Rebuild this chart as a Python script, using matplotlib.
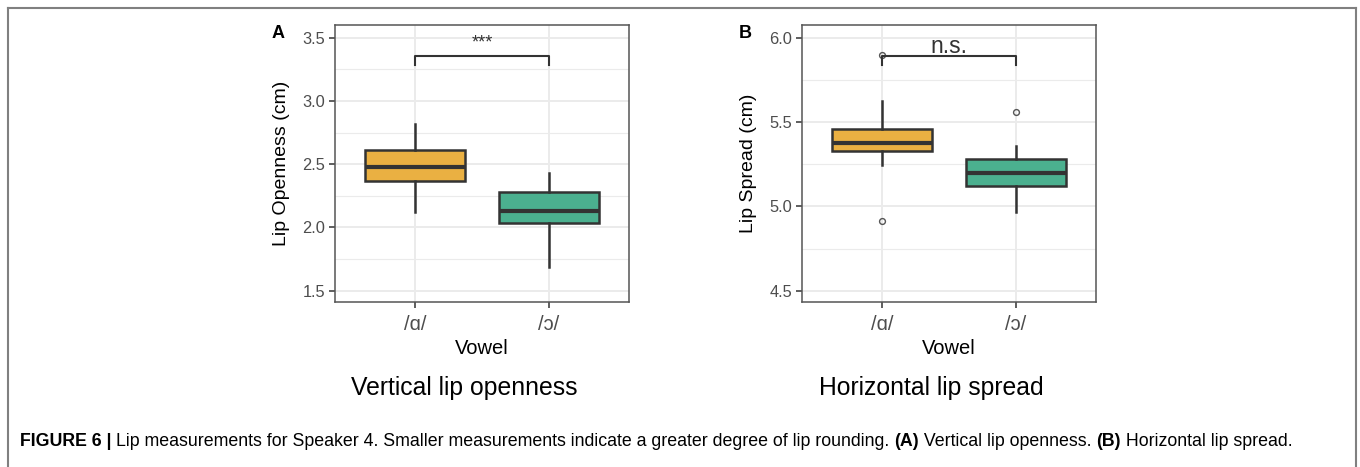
import matplotlib
matplotlib.use("Agg")
import matplotlib.pyplot as plt
from matplotlib.ticker import MultipleLocator

plt.rcParams['font.family'] = ['Liberation Sans', 'DejaVu Sans']

# ---- data ----
vowels = ["/ɑ/", "/ɔ/"]
colors = ["#EAB042", "#4BB08F"]

# Panel A: Lip openness (cm)
open_q1 = [2.363, 2.032]
open_med = [2.477, 2.131]
open_q3 = [2.608, 2.276]
open_lo = [2.118, 1.689]
open_hi = [2.818, 2.428]
open_fliers = [[], []]
open_sig = "***"
open_bracket = 3.353

# Panel B: Lip spread (cm)
spread_q1 = [5.328, 5.118]
spread_med = [5.376, 5.196]
spread_q3 = [5.457, 5.279]
spread_lo = [5.243, 4.964]
spread_hi = [5.627, 5.360]
spread_fliers = [[5.895, 4.914], [5.557]]
spread_sig = "n.s."
spread_bracket = 5.89

W, H = 1360, 467
fig = plt.figure(figsize=(W / 100, H / 100), dpi=100)

# outer frame (open at bottom)
frame_col = "#808080"
fig.add_artist(plt.Line2D([8 / W, 8 / W], [0, 1 - 8 / H], transform=fig.transFigure, color=frame_col, lw=1.5))
fig.add_artist(plt.Line2D([8 / W, 1356 / W], [1 - 8 / H, 1 - 8 / H], transform=fig.transFigure, color=frame_col, lw=1.5))
fig.add_artist(plt.Line2D([1356 / W, 1356 / W], [0, 1 - 8 / H], transform=fig.transFigure, color=frame_col, lw=1.5))

edge = "#333333"
tick_col = "#4D4D4D"


def panel(left_px, q1, med, q3, lo, hi, fliers, ylim, major, ylabel, sig, bracket, tip, sig_y, sig_size, letter):
    ax = fig.add_axes([left_px / W, 1 - 302 / H, 294 / W, 277 / H])
    stats = []
    for i in range(len(vowels)):
        stats.append(dict(q1=q1[i], med=med[i], q3=q3[i], whislo=lo[i], whishi=hi[i], fliers=fliers[i]))
    pos = list(range(1, len(vowels) + 1))
    ax.set_axisbelow(True)
    bp = ax.bxp(stats, positions=pos, widths=0.75, patch_artist=True, showcaps=False,
                boxprops=dict(edgecolor=edge, linewidth=1.8),
                medianprops=dict(color=edge, linewidth=3.0, solid_capstyle='butt'),
                whiskerprops=dict(color=edge, linewidth=1.8),
                flierprops=dict(marker='o', markersize=4.2, markerfacecolor='none',
                                markeredgecolor='#555555', markeredgewidth=1.0),
                zorder=3)
    for patch, c in zip(bp['boxes'], colors):
        patch.set_facecolor(c)
    ax.set_xlim(0.4, 2.6)
    ax.set_ylim(*ylim)
    ax.yaxis.set_major_locator(MultipleLocator(major))
    ax.yaxis.set_minor_locator(MultipleLocator(major / 2))
    ax.yaxis.set_major_formatter(matplotlib.ticker.FormatStrFormatter('%.1f'))
    ax.set_xticks(pos)
    ax.set_xticklabels(vowels)
    ax.grid(True, which='major', color='#EBEBEB', lw=1.4)
    ax.grid(True, which='minor', axis='y', color='#EBEBEB', lw=0.8)
    ax.tick_params(axis='both', which='major', length=4, width=1.1, color='#333333',
                   labelsize=11.8, labelcolor=tick_col, pad=3)
    ax.tick_params(axis='y', which='minor', length=0)
    ax.tick_params(axis='x', labelsize=14.5, pad=5)
    for s in ax.spines.values():
        s.set_color('#555555')
        s.set_linewidth(1.1)
    ax.set_xlabel("Vowel", fontsize=14.5, color='black', labelpad=4)
    ax.set_ylabel(ylabel, fontsize=14, color='black', labelpad=9)
    # significance bracket
    ax.plot([1, 1, 2, 2], [tip, bracket, bracket, tip], color=edge, lw=1.5, zorder=4)
    ax.text(1.5, sig_y, sig, ha='center', va='center', fontsize=sig_size, color='#333333')
    fig.text((left_px - 57) / W, 1 - 33 / H, letter, fontsize=13, fontweight='bold', ha='center', va='center')
    return ax


panel(335, open_q1, open_med, open_q3, open_lo, open_hi, open_fliers,
      (1.41, 3.6), 0.5, "Lip Openness (cm)", open_sig, open_bracket, 3.284, 3.46, 13, "A")
panel(802, spread_q1, spread_med, spread_q3, spread_lo, spread_hi, spread_fliers,
      (4.433, 6.075), 0.5, "Lip Spread (cm)", spread_sig, spread_bracket, 5.836, 5.95, 16.5, "B")

fig.text(464 / W, 1 - 388 / H, "Vertical lip openness", fontsize=17.8, ha='center', va='center')
fig.text(931 / W, 1 - 388 / H, "Horizontal lip spread", fontsize=17.8, ha='center', va='center')

# caption
cap_y = 1 - 441 / H
cap_fs = 12.75
t1 = fig.text(20 / W, cap_y, "FIGURE 6 | ", fontsize=cap_fs, fontweight='bold', ha='left', va='center')
fig.canvas.draw()
r = fig.canvas.get_renderer()
bb = t1.get_window_extent(r)
x = bb.x1
parts = [("Lip measurements for Speaker 4. Smaller measurements indicate a greater degree of lip rounding. ", 'normal'),
         ("(A)", 'bold'), (" Vertical lip openness. ", 'normal'), ("(B)", 'bold'), (" Horizontal lip spread.", 'normal')]
for txt, w in parts:
    t = fig.text(x / W, cap_y, txt, fontsize=cap_fs, fontweight=w, ha='left', va='center')
    bb = t.get_window_extent(r)
    x = bb.x1

fig.savefig("out.png", dpi=100)
